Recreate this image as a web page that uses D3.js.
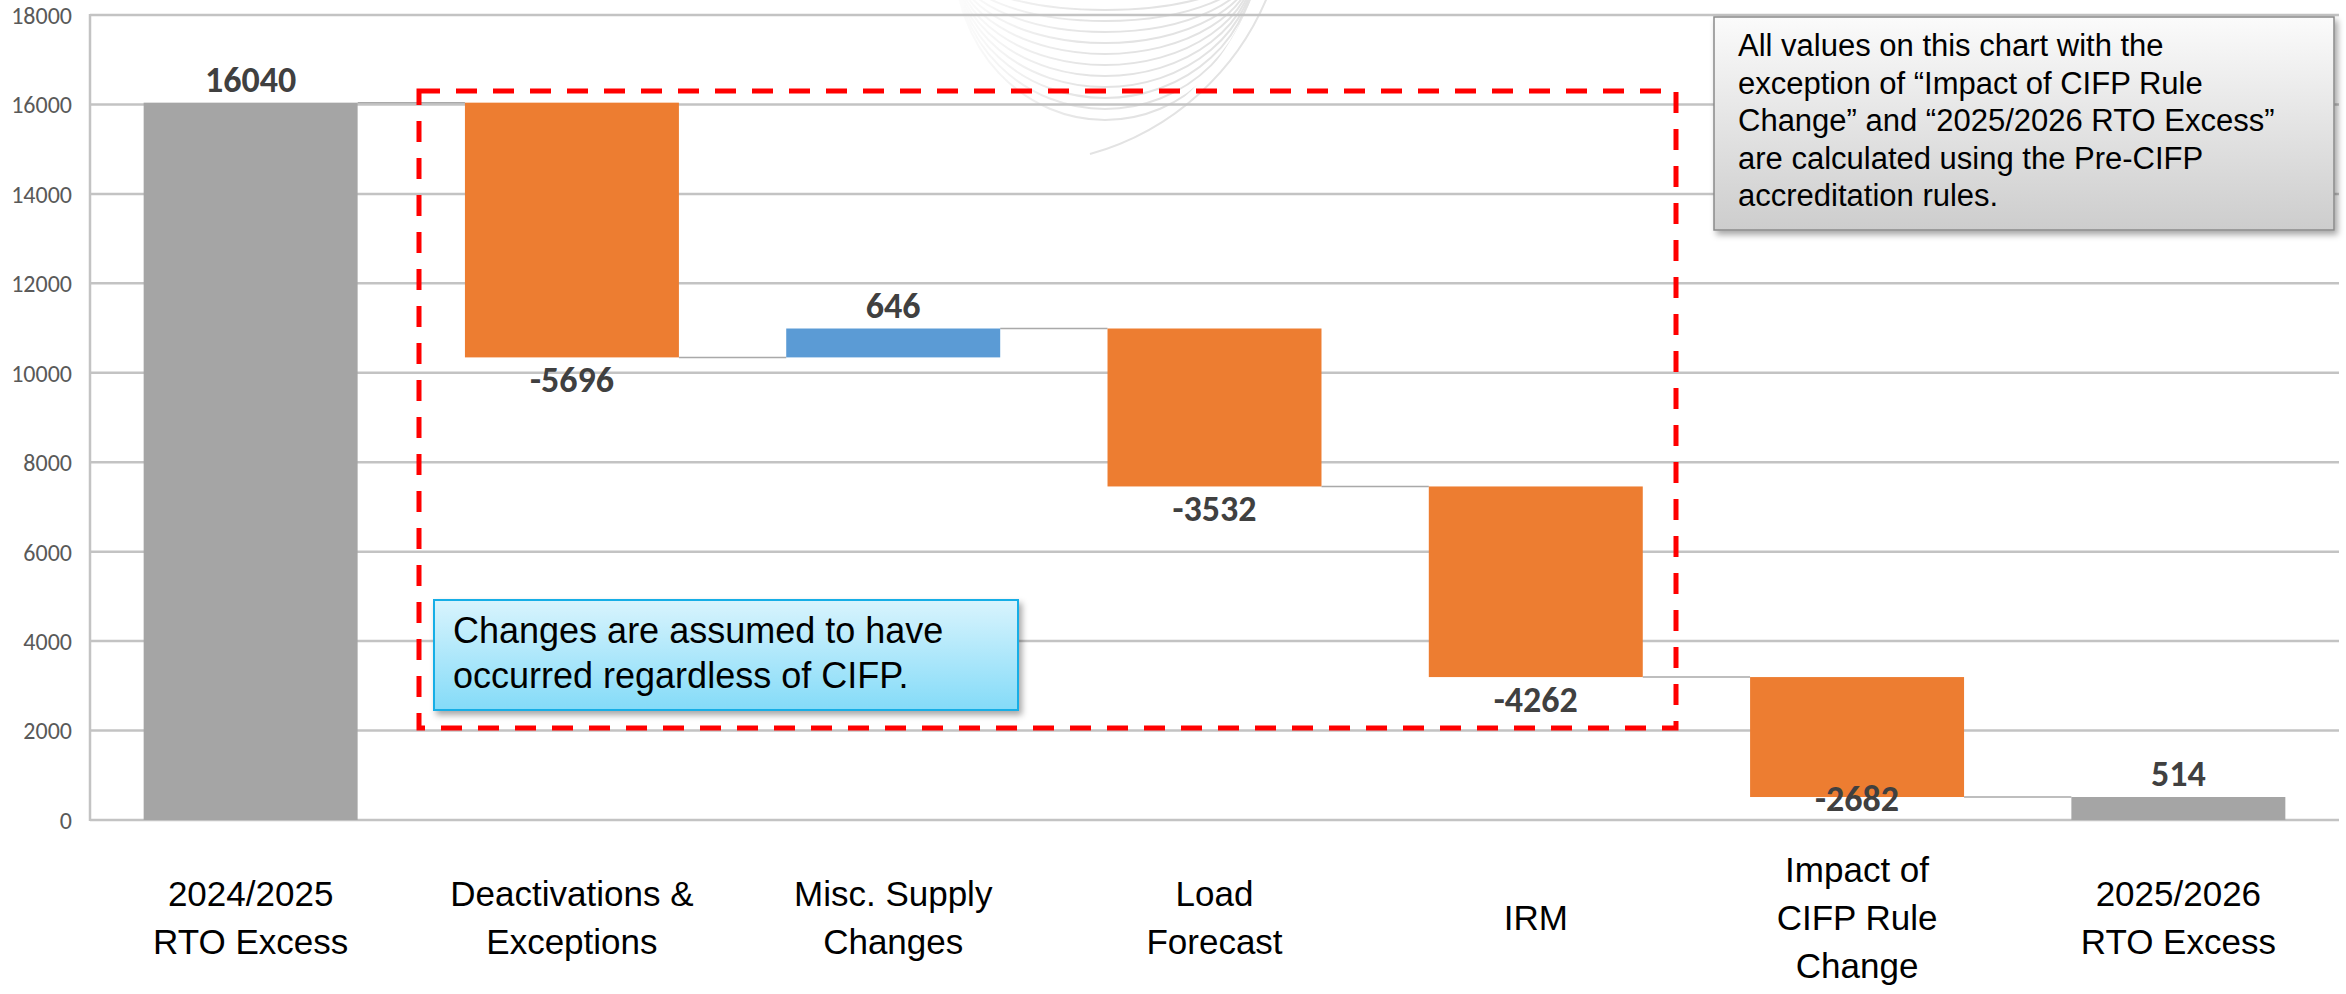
<!DOCTYPE html>
<html>
<head>
<meta charset="utf-8">
<script src="https://cdn.jsdelivr.net/npm/d3@7"></script>
<style>
  html, body { margin: 0; padding: 0; background: #ffffff; }
  svg { display: block; }
</style>
</head>
<body>
<svg id="chart" width="2346" height="994"></svg>
<script>
// ---------------- data ----------------
const categories = [
  "2024/2025\nRTO Excess",
  "Deactivations &\nExceptions",
  "Misc. Supply\nChanges",
  "Load\nForecast",
  "IRM",
  "Impact of\nCIFP Rule\nChange",
  "2025/2026\nRTO Excess"
];
const values = [16040, -5696, 646, -3532, -4262, -2682, 514];
const kinds = ["total", "delta", "delta", "delta", "delta", "delta", "total"];
const yTicks = [0, 2000, 4000, 6000, 8000, 10000, 12000, 14000, 16000, 18000];
const noteTopRight = [
  "All values on this chart with the",
  "exception of \u201CImpact of CIFP Rule",
  "Change\u201D and \u201C2025/2026 RTO Excess\u201D",
  "are calculated using the Pre-CIFP",
  "accreditation rules."
];
const noteInside = [
  "Changes are assumed to have",
  "occurred regardless of CIFP."
];

// ---------------- build waterfall ----------------
let running = 0;
const bars = categories.map((c, i) => {
  const v = values[i];
  let y0, y1;
  if (kinds[i] === "total") { y0 = 0; y1 = v; running = v; }
  else { y0 = running; y1 = running + v; running = y1; }
  return { cat: c, value: v, kind: kinds[i], lo: Math.min(y0, y1), hi: Math.max(y0, y1), end: y1 };
});

const colorFor = d => d.kind === "total" ? "#a5a5a5" : (d.value < 0 ? "#ed7d31" : "#5b9bd5");

// ---------------- scales ----------------
const svg = d3.select("#chart");
const plotLeft = 90, plotRight = 2339, plotTop = 15, plotBottom = 820;
const y = d3.scaleLinear().domain([0, 18000]).range([plotBottom, plotTop]);
const x = d3.scaleBand().domain(categories).range([plotLeft, plotRight])
  .paddingInner(0.334).paddingOuter(0.167);

// ---------------- defs ----------------
const defs = svg.append("defs");
const g1 = defs.append("linearGradient").attr("id", "grayGrad").attr("x1", 0).attr("y1", 0).attr("x2", 0).attr("y2", 1);
g1.append("stop").attr("offset", "0%").attr("stop-color", "#fbfbfb");
g1.append("stop").attr("offset", "100%").attr("stop-color", "#cdcdcd");
const g2 = defs.append("linearGradient").attr("id", "blueGrad").attr("x1", 0).attr("y1", 0).attr("x2", 0).attr("y2", 1);
g2.append("stop").attr("offset", "0%").attr("stop-color", "#d9f4fd");
g2.append("stop").attr("offset", "100%").attr("stop-color", "#84dbf8");
const sh = defs.append("filter").attr("id", "shadow").attr("x", "-5%").attr("y", "-10%").attr("width", "115%").attr("height", "130%");
sh.append("feDropShadow").attr("dx", 3).attr("dy", 4).attr("stdDeviation", 3).attr("flood-color", "#000").attr("flood-opacity", 0.35);
const gc = defs.append("clipPath").attr("id", "globeClip");
gc.append("circle").attr("cx", 1000).attr("cy", -100).attr("r", 270);
const fade = defs.append("linearGradient").attr("id", "wmFade").attr("x1", 0).attr("y1", 0).attr("x2", 1).attr("y2", 0);
fade.append("stop").attr("offset", "0%").attr("stop-color", "#fff").attr("stop-opacity", 0);
fade.append("stop").attr("offset", "45%").attr("stop-color", "#fff").attr("stop-opacity", 1);
fade.append("stop").attr("offset", "100%").attr("stop-color", "#fff").attr("stop-opacity", 1);
defs.append("mask").attr("id", "wmMask")
  .append("rect").attr("x", 940).attr("y", -10).attr("width", 340).attr("height", 200).attr("fill", "url(#wmFade)");

// ---------------- watermark (decorative) ----------------
const wm = svg.append("g").attr("fill", "none").attr("stroke", "#e3e3e3").attr("stroke-width", 2)
  .attr("mask", "url(#wmMask)");
wm.append("path").attr("d", "M 1270 -10 A 270 270 0 0 1 1090 154");
const wmArcs = wm.append("g").attr("clip-path", "url(#globeClip)");
d3.range(11).forEach(i => {
  const ry = 50 + i * 11, rx = 150;
  wmArcs.append("path")
    .attr("d", `M ${1105 - rx} -40 A ${rx} ${ry} 0 0 0 ${1105 + rx} -40`);
});

// ---------------- grid + axis ----------------
svg.append("g").selectAll("line").data(yTicks).join("line")
  .attr("x1", plotLeft).attr("x2", plotRight)
  .attr("y1", d => y(d)).attr("y2", d => y(d))
  .attr("stroke", "#c3c3c3").attr("stroke-width", 2.5);
svg.append("line")
  .attr("x1", plotLeft).attr("x2", plotLeft)
  .attr("y1", y(18000) - 1).attr("y2", y(0) + 1)
  .attr("stroke", "#c3c3c3").attr("stroke-width", 2.5);

const yAxis = d3.axisLeft(y).tickValues(yTicks).tickSize(0).tickPadding(0).tickFormat(d3.format("d"));
const yg = svg.append("g").attr("transform", `translate(${plotLeft - 18},0)`).call(yAxis);
yg.select(".domain").remove();
yg.selectAll("text")
  .attr("font-family", "Carlito, Lato, 'Open Sans', sans-serif")
  .attr("font-size", 24).attr("fill", "#595959").attr("dy", "0.35em");

// ---------------- connectors ----------------
const conn = svg.append("g");
bars.slice(0, -1).forEach((d, i) => {
  const next = categories[i + 1];
  conn.append("line")
    .attr("x1", x(d.cat) + x.bandwidth()).attr("x2", x(next))
    .attr("y1", y(d.end)).attr("y2", y(d.end))
    .attr("stroke", "#a9a9a9").attr("stroke-width", 1.5);
});

// ---------------- bars ----------------
svg.append("g").selectAll("rect").data(bars).join("rect")
  .attr("x", d => x(d.cat))
  .attr("width", x.bandwidth())
  .attr("y", d => y(d.hi))
  .attr("height", d => y(d.lo) - y(d.hi))
  .attr("fill", colorFor);

// ---------------- value labels ----------------
svg.append("g").selectAll("text").data(bars).join("text")
  .attr("x", d => x(d.cat) + x.bandwidth() / 2)
  .attr("y", d => d.value >= 0 ? y(d.hi) - 11 : Math.min(y(d.lo) + 35, y(0) - 9))
  .attr("text-anchor", "middle")
  .attr("font-family", "Carlito, Lato, 'Open Sans', sans-serif")
  .attr("font-weight", "bold").attr("font-size", 36).attr("fill", "#404040")
  .text(d => d.value);

// ---------------- category labels ----------------
const lineH = 48, labelMid = 918;
svg.append("g").selectAll("text").data(categories).join("text")
  .attr("text-anchor", "middle")
  .attr("font-family", "'Liberation Sans', Arial, sans-serif")
  .attr("font-size", 35).attr("fill", "#000")
  .each(function (c) {
    const lines = c.split("\n");
    const first = labelMid - (lines.length - 1) * lineH / 2 + 12;
    d3.select(this).selectAll("tspan").data(lines).join("tspan")
      .attr("x", x(c) + x.bandwidth() / 2)
      .attr("y", (l, j) => first + j * lineH)
      .text(l => l);
  });

// ---------------- red dashed frame ----------------
svg.append("rect")
  .attr("x", 419).attr("y", 91).attr("width", 1257).attr("height", 637)
  .attr("fill", "none").attr("stroke", "#ff0000").attr("stroke-width", 5)
  .attr("stroke-dasharray", "21,16");

// ---------------- note boxes ----------------
const n1 = svg.append("g");
n1.append("rect").attr("x", 1714).attr("y", 17).attr("width", 620).attr("height", 213)
  .attr("fill", "url(#grayGrad)").attr("stroke", "#8a8a8a").attr("stroke-width", 1.5)
  .attr("filter", "url(#shadow)");
n1.append("text").attr("font-family", "'Liberation Sans', Arial, sans-serif")
  .attr("font-size", 31).attr("fill", "#000")
  .selectAll("tspan").data(noteTopRight).join("tspan")
  .attr("x", 1738).attr("y", (d, i) => 56 + i * 37.5).text(d => d);

const n2 = svg.append("g");
n2.append("rect").attr("x", 434).attr("y", 600).attr("width", 584).attr("height", 110)
  .attr("fill", "url(#blueGrad)").attr("stroke", "#17aee6").attr("stroke-width", 2)
  .attr("filter", "url(#shadow)");
n2.append("text").attr("font-family", "'Liberation Sans', Arial, sans-serif")
  .attr("font-size", 36).attr("fill", "#000")
  .selectAll("tspan").data(noteInside).join("tspan")
  .attr("x", 453).attr("y", (d, i) => 643 + i * 45).text(d => d);
</script>
</body>
</html>
